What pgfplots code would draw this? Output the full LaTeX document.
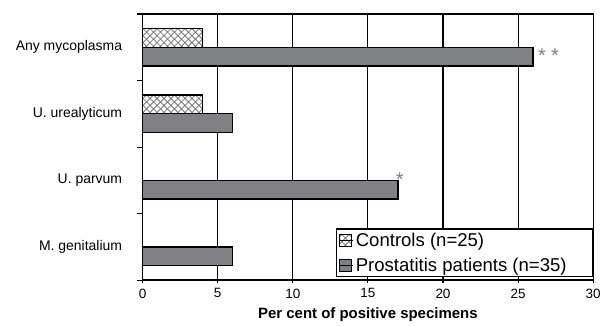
\documentclass[border=0pt]{standalone}
\usepackage{fontspec}
\setmainfont{Liberation Sans}
\usepackage{pgfplots}
\pgfplotsset{compat=1.18}
\usetikzlibrary{patterns,calc}

\pgfdeclarepatternformonly{mycross}{\pgfqpoint{-1pt}{-1pt}}{\pgfqpoint{8pt}{8pt}}{\pgfqpoint{7pt}{7pt}}{%
  \pgfsetlinewidth{0.8pt}%
  \pgfpathmoveto{\pgfqpoint{-0.1pt}{-0.1pt}}\pgfpathlineto{\pgfqpoint{7.1pt}{7.1pt}}%
  \pgfpathmoveto{\pgfqpoint{-0.1pt}{7.1pt}}\pgfpathlineto{\pgfqpoint{7.1pt}{-0.1pt}}%
  \pgfusepath{stroke}}

\definecolor{barfill}{RGB}{128,129,133}
\definecolor{hatch}{RGB}{120,120,120}

\begin{document}
\begin{tikzpicture}
\begin{axis}[
  scale only axis, width=452pt, height=267pt,
  xbar,
  xmin=0, xmax=30, ymin=-0.5, ymax=3.5,
  bar width=0.28,
  axis line style={black, line width=1.3pt},
  xtick={0,5,...,30},
  xmajorgrids,
  major grid style={black, line width=1.1pt},
  ytick={0,1,2,3},
  yticklabels={M. genitalium, U. parvum, U. urealyticum, Any mycoplasma},
  minor ytick={-0.5,0.5,1.5,2.5,3.5},
  major y tick style={draw=none},
  tick style={black, line width=1.1pt},
  major tick length=3pt, minor tick length=6pt,
  tick align=outside,
  xtick pos=bottom, ytick pos=left,
  /pgf/number format/assume math mode=true,
  xticklabel style={font=\fontsize{13.5}{15}\selectfont, yshift=-2pt},
  yticklabel style={font=\fontsize{14}{16}\selectfont, xshift=-6pt},
  yticklabel shift=8pt,
  xlabel={\textbf{Per cent of positive specimens}},
  xlabel style={font=\fontsize{15}{17}\selectfont, yshift=-3pt},
  legend style={at={(rel axis cs:1,0.01)}, anchor=south east, draw=black, line width=1.3pt,
    font=\fontsize{18.6}{21}\selectfont, row sep=6pt, inner sep=2pt},
  legend cell align=left,
  legend image code/.code={\draw[#1, line width=0.8pt] (0pt,-6pt) rectangle (12pt,6pt);
    \path (0pt,0pt) -- (14pt,0pt);},
  clip=false,
]
\addplot[draw=black, line width=1.3pt, pattern=mycross, pattern color=hatch, bar shift=0.14]
  coordinates {(0,0) (0,1) (4,2) (4,3)};
\addlegendentry{Controls (n=25)}
\addplot[draw=black, line width=1.3pt, fill=barfill, bar shift=-0.14]
  coordinates {(6,0) (17,1) (6,2) (26,3)};
\addlegendentry{Prostatitis patients (n=35)\rule{22pt}{0pt}}
\node[text=gray, font=\fontsize{20}{20}\selectfont, inner sep=0pt, anchor=north] at (axis cs:26.6,2.987) {*};
\node[text=gray, font=\fontsize{20}{20}\selectfont, inner sep=0pt, anchor=north] at (axis cs:27.45,2.987) {*};
\node[text=gray, font=\fontsize{20}{20}\selectfont, inner sep=0pt, anchor=north] at (axis cs:17.12,1.114) {*};
\end{axis}
\path ($(current axis.south west)+(-143pt,-39pt)$) rectangle ($(current axis.north east)+(9pt,14pt)$);
\end{tikzpicture}
\end{document}
